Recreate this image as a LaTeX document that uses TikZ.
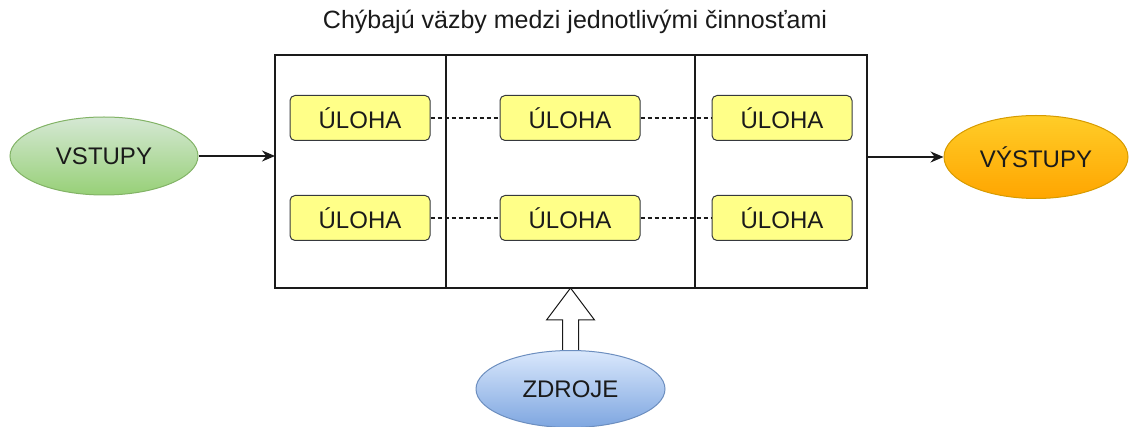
\documentclass[tikz,border=0pt]{standalone}
\usepackage{fontspec}
\setmainfont{Liberation Sans}
\usetikzlibrary{arrows.meta,positioning,calc,shapes.geometric}
\definecolor{ink}{HTML}{1A1A1A}
\definecolor{taskfill}{HTML}{FFFF88}
\definecolor{taskline}{HTML}{36393D}
\definecolor{inlight}{HTML}{D5E8D4}
\definecolor{indark}{HTML}{97D077}
\definecolor{inline}{HTML}{82B366}
\definecolor{outlight}{HTML}{FFCD28}
\definecolor{outdark}{HTML}{FFA500}
\definecolor{outline}{HTML}{D79B00}
\definecolor{reslight}{HTML}{DAE8FC}
\definecolor{resdark}{HTML}{7EA6E0}
\definecolor{resline}{HTML}{6C8EBF}
\tikzset{
  every picture/.style={line width=1.2pt, draw=ink, text=ink},
  lane/.style={draw=ink, line width=1.3pt, minimum height=233pt, inner sep=0pt, outer sep=0pt},
  task/.style={draw=taskline, fill=taskfill, rounded corners=5pt, line width=1pt,
    minimum width=140pt, minimum height=45pt, font=\fontsize{24}{28}\selectfont},
  blob/.style={ellipse, line width=1pt, font=\fontsize{24}{28}\selectfont},
  link/.style={-{Stealth[length=13pt,width=11pt]}, draw=ink},
  gap/.style={dashed, dash pattern=on 4pt off 3pt, draw=ink},
}
\begin{document}
\begin{tikzpicture}[x=1pt, y=-1pt]
\useasboundingbox (0,0) rectangle (1130,427);
% three lanes of the process frame
\node[lane, minimum width=171pt] (left) at (360.5,171.5) {};
\node[lane, minimum width=249pt, right=0pt of left] (mid) {};
\node[lane, minimum width=172pt, right=0pt of mid] (right) {};
\node[font=\fontsize{25}{29}\selectfont] (title) at (575,22) {Chýbajú väzby medzi jednotlivými činnosťami};
% tasks, two rows
\foreach \r/\y in {a/118, b/218} {
  \node[task] (\r1) at (360,\y) {ÚLOHA};
  \node[task] (\r2) at (570,\y) {ÚLOHA};
  \node[task] (\r3) at (782,\y) {ÚLOHA};
  \draw[gap] (\r1) -- (\r2);
  \draw[gap] (\r2) -- (\r3);
}
% inputs, outputs, resources
\node[blob, draw=inline, top color=inlight, bottom color=indark, minimum width=188pt, minimum height=78pt] (in) at (104,156) {VSTUPY};
\node[blob, draw=outline, top color=outlight, bottom color=outdark, minimum width=184pt, minimum height=83pt] (out) at (1036,157) {VÝSTUPY};
\node[blob, draw=resline, top color=reslight, bottom color=resdark, minimum width=189pt, minimum height=77pt] (res) at (570.5,389) {ZDROJE};
\draw[link] (in.east) -- (left.west |- in.east);
\draw[link] (right.east |- out.west) -- (out.west);
% hollow arrow from resources up into the frame
\draw[line width=1pt, fill=white] ($(res.north)+(-8,0)$) -- ($(res.north)+(-8,-30)$) -- ($(res.north)+(-24,-30)$)
  -- (mid.south) -- ($(res.north)+(24,-30)$) -- ($(res.north)+(8,-30)$) -- ($(res.north)+(8,0)$);
\end{tikzpicture}
\end{document}
